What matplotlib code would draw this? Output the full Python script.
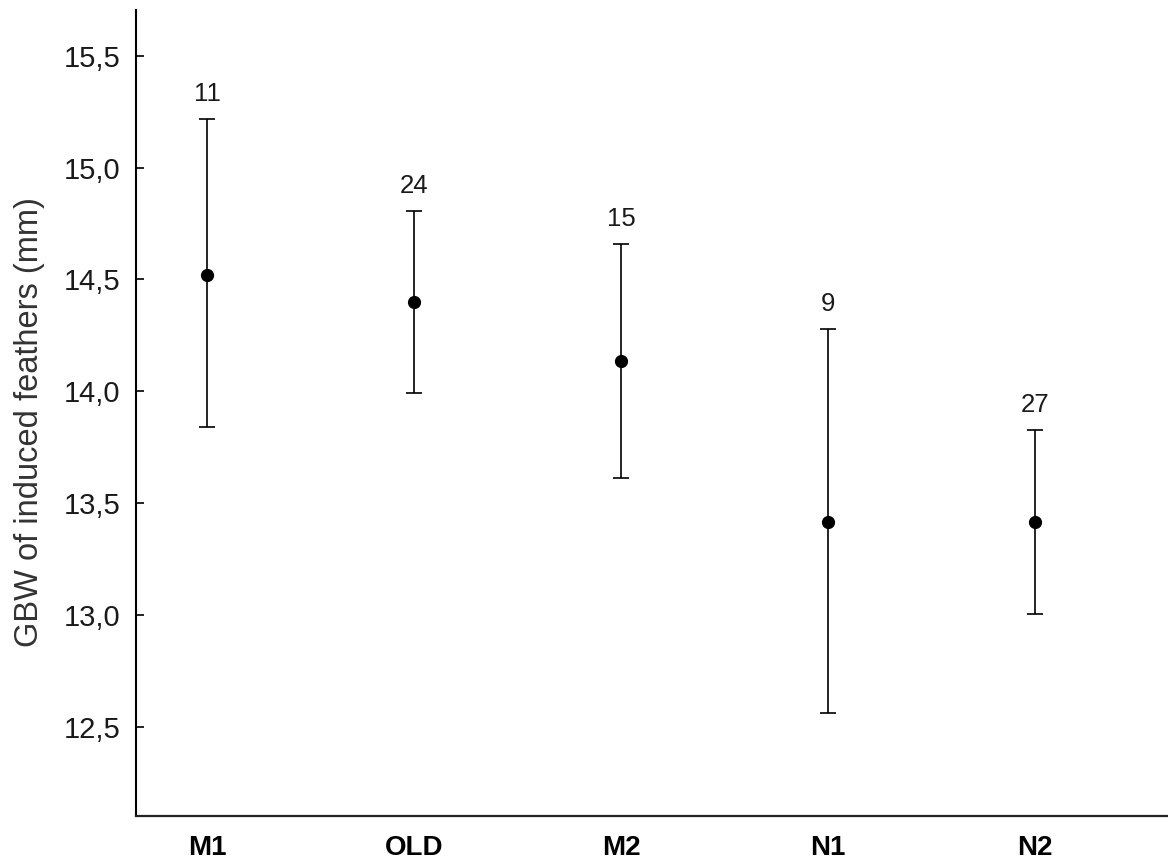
import matplotlib
matplotlib.use("Agg")
import matplotlib.pyplot as plt
from matplotlib.ticker import FuncFormatter

groups = ["M1", "OLD", "M2", "N1", "N2"]
means = [14.52, 14.40, 14.135, 13.417, 13.417]
upper = [15.217, 14.807, 14.658, 14.277, 13.827]
lower = [13.839, 13.994, 13.611, 12.560, 13.004]
counts = ["11", "24", "15", "9", "27"]
yticks = [12.5, 13.0, 13.5, 14.0, 14.5, 15.0, 15.5]

plt.rcParams['font.family'] = ['Liberation Sans', 'DejaVu Sans']

fig = plt.figure(figsize=(11.68, 8.61), dpi=100)
ax = fig.add_axes([136/1168, 1 - 815.7/861, 1 - 136/1168, (815.7 - 10)/861])

x = list(range(len(groups)))
yerr = [[m - l for m, l in zip(means, lower)], [u - m for m, u in zip(means, upper)]]
ax.errorbar(x, means, yerr=yerr, fmt='o', color='black', ecolor='black',
            elinewidth=1.2, capsize=5.8, capthick=1.2, markersize=8.5)

for xi, u, c in zip(x, upper, counts):
    ax.annotate(c, (xi, u), xytext=(0, 13), textcoords='offset points',
                ha='center', va='baseline', fontsize=18.5, color='#1a1a1a')

ax.set_xlim(-0.343, 4.643)
ax.set_ylim(12.103, 15.704)
ax.set_xticks(x)
ax.set_xticklabels(groups, fontsize=20, fontweight='bold', color='black')
ax.set_yticks(yticks)
ax.yaxis.set_major_formatter(FuncFormatter(lambda v, p: f"{v:.1f}".replace('.', ',')))
ax.tick_params(axis='y', direction='in', length=6, width=1.2, labelsize=21,
               labelcolor='#1a1a1a', pad=11.5)
ax.tick_params(axis='x', length=0, pad=14)
ax.set_ylabel("GBW of induced feathers (mm)", fontsize=23.5, color='#333333',
              labelpad=13, y=0.488)

for s in ['top', 'right']:
    ax.spines[s].set_visible(False)
ax.spines['left'].set_linewidth(1.5)
ax.spines['bottom'].set_linewidth(1.6)
ax.spines['bottom'].set_color('#222222')

fig.savefig("out.png", dpi=100)
